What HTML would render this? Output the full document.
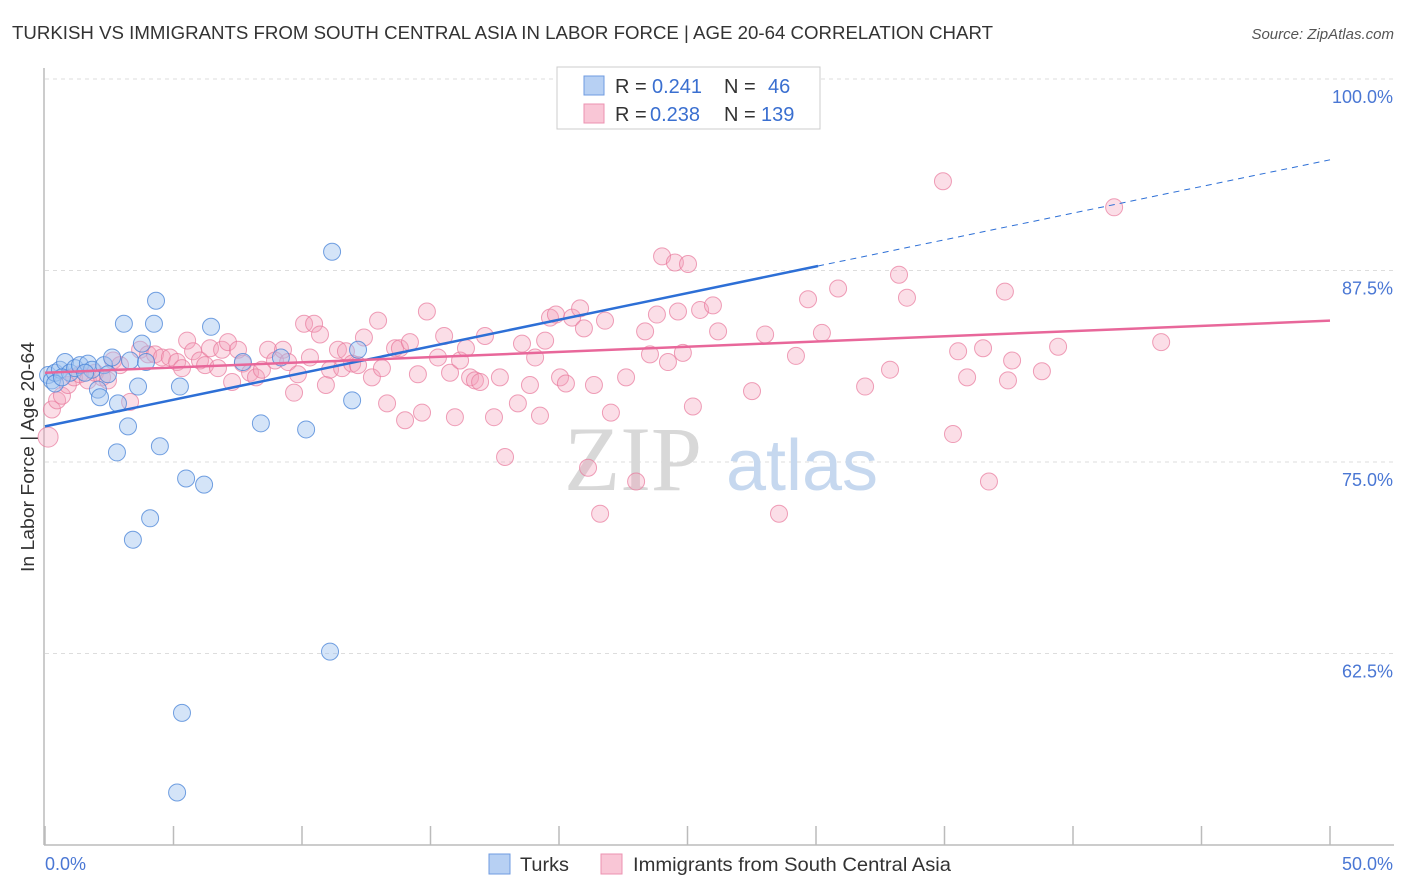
<!DOCTYPE html>
<html><head><meta charset="utf-8">
<style>
body{margin:0;background:#fff;width:1406px;height:892px;overflow:hidden;font-family:"Liberation Sans",sans-serif}
svg{position:absolute;left:0;top:0}
</style></head>
<body>
<svg id="chart" width="1406" height="892"></svg>
<script>
const xTicks=[0,5,10,15,20,25,30,35,40,45,50];
const yTicks=[100,87.5,75,62.5];
const yTickLabels=["100.0%","87.5%","75.0%","62.5%"];
const turksX=[0.12,0.27,0.39,0.58,0.78,0.97,1.17,1.36,1.67,1.83,2.06,2.14,2.30,2.45,2.61,2.84,3.07,3.23,2.80,3.31,3.62,3.77,3.93,4.24,4.32,4.09,4.47,3.42,5.25,5.49,6.19,6.46,7.70,8.40,9.18,10.16,11.17,11.95,12.18,11.09,5.33,5.14,29.42,0.39,0.66,1.56];
const turksY=[81.85,81.5,82.0,82.2,82.7,82.0,82.3,82.5,82.6,82.2,80.9,80.4,82.5,81.9,83.0,80.0,85.2,78.5,76.8,82.8,81.1,83.9,82.7,85.2,86.7,72.5,77.2,71.1,81.1,75.1,74.7,85.0,82.7,78.7,83.0,78.3,89.9,80.2,83.5,63.8,59.8,54.6,101.1,81.3,81.7,82.0];
const immX=[0.12,0.27,0.47,0.66,0.89,1.13,1.36,1.67,1.95,2.22,2.45,2.65,2.92,3.31,3.70,4.01,4.28,4.55,4.86,5.14,5.33,5.53,5.76,6.03,6.23,6.42,6.73,6.89,7.12,7.28,7.51,7.70,7.98,8.21,8.44,8.68,8.95,9.26,9.46,9.69,9.84,10.08,10.31,10.47,10.70,10.93,11.09,11.40,11.56,11.71,11.95,12.18,12.41,12.72,12.96,13.11,13.31,13.62,13.81,14.01,14.20,14.51,14.67,14.86,15.29,15.53,15.76,15.95,16.15,16.38,16.54,16.73,16.93,17.12,17.47,17.70,17.90,18.40,18.56,18.87,19.07,19.26,19.46,19.65,19.88,20.04,20.27,20.51,20.82,20.97,21.13,21.36,21.60,21.79,22.02,22.61,23.00,23.35,23.54,23.81,24.01,24.24,24.51,24.63,24.82,25.02,25.21,25.49,25.99,26.19,27.51,28.02,28.56,29.22,29.69,30.23,30.86,31.91,32.88,33.23,33.54,34.94,35.33,35.53,35.88,36.50,36.73,37.35,37.47,37.63,38.79,39.42,41.60,43.43];
const immY=[77.8,79.6,80.2,80.5,81.2,81.7,81.9,81.5,82.0,81.7,81.5,82.8,82.5,80.1,83.5,83.2,83.2,83.0,83.0,82.7,82.3,84.1,83.4,82.8,82.5,83.6,82.3,83.5,84.0,81.4,83.5,82.6,82.0,81.7,82.2,83.5,82.8,83.5,82.7,80.7,81.9,85.2,83.0,85.2,84.5,81.2,82.2,83.5,82.3,83.4,82.6,82.5,84.3,81.7,85.4,82.3,80.0,83.6,83.6,78.9,84.0,81.9,79.4,86.0,83.0,84.4,82.0,79.1,82.8,83.6,81.7,81.5,81.4,84.4,79.1,81.7,76.5,80.0,83.9,81.2,83.0,79.2,84.1,85.6,85.8,81.7,81.3,85.6,86.2,84.9,75.8,81.2,72.8,85.4,79.4,81.7,74.9,84.7,83.2,85.8,89.6,82.7,89.2,86.0,83.3,89.1,79.8,86.1,86.4,84.7,80.8,84.5,72.8,83.1,86.8,84.6,87.5,81.1,82.2,88.4,86.9,94.5,78.0,83.4,81.7,83.6,74.9,87.3,81.5,82.8,82.1,83.7,92.8,84.0];
const turksTrend=[78.5,95.9]; // y at x=0 and x=50
const turksSolidEnd=30.08;
const immTrend=[82.0,85.4];

const NS="http://www.w3.org/2000/svg";
const svg=document.getElementById('chart');
const X=v=>45+v/50*1285;
const Y=v=>97+(100-v)*15.32;
function el(tag,attrs,parent){const e=document.createElementNS(NS,tag);for(const k in attrs)e.setAttribute(k,attrs[k]);(parent||svg).appendChild(e);return e;}

let t=el('text',{x:12,y:39,'font-size':18.5,fill:'#333',textLength:981,lengthAdjust:'spacingAndGlyphs'});t.textContent="TURKISH VS IMMIGRANTS FROM SOUTH CENTRAL ASIA IN LABOR FORCE | AGE 20-64 CORRELATION CHART";


t=el('text',{x:1394,y:39,'font-size':15,fill:'#555','font-style':'italic','text-anchor':'end'});t.textContent="Source: ZipAtlas.com";



yTicks.forEach((v,i)=>{
  const g=el('line',{x1:45,x2:1394,y1:Y(v)-18,y2:Y(v)-18,stroke:'#ddd','stroke-dasharray':'4,4'});
  
  
  const l=el('text',{x:1393,y:Y(v)+6,'font-size':18,fill:'#4a77d4','text-anchor':'end'});l.textContent=yTickLabels[i];
  
  
});
let a=el('line',{x1:44,x2:44,y1:68,y2:845,stroke:'#bbb','stroke-width':1.5});


a=el('line',{x1:44,x2:1394,y1:845,y2:845,stroke:'#bbb','stroke-width':1.5});


xTicks.forEach(v=>{
  const k=el('line',{x1:X(v),x2:X(v),y1:826,y2:845,stroke:'#bbb','stroke-width':1.5});
  
  
});
t=el('text',{x:45,y:870,'font-size':18,fill:'#4a77d4'});t.textContent="0.0%";


t=el('text',{x:1393,y:870,'font-size':18,fill:'#4a77d4','text-anchor':'end'});t.textContent="50.0%";


t=el('text',{x:34,y:457,'font-size':18.5,fill:'#333','text-anchor':'middle',transform:'rotate(-90 34 457)',textLength:230,lengthAdjust:'spacingAndGlyphs'});t.textContent="In Labor Force | Age 20-64";



t=el('text',{x:633,y:490,'font-size':92,fill:'#d8d8d8','font-family':'Liberation Serif, serif','text-anchor':'middle'});t.textContent="ZIP";


t=el('text',{x:802,y:490,'font-size':72,fill:'#c6d8ef','text-anchor':'middle'});t.textContent="atlas";



immX.forEach((x,i)=>{
  const c=el('circle',{cx:X(x),cy:Y(immY[i]),r:i===0?10:8.5,fill:'rgba(244,160,185,0.35)',stroke:'rgba(232,120,155,0.7)','stroke-width':1});
  
  
});
turksX.forEach((x,i)=>{
  const c=el('circle',{cx:X(x),cy:Y(turksY[i]),r:8.5,fill:'rgba(160,195,240,0.45)',stroke:'rgba(70,130,215,0.75)','stroke-width':1});
  
  
});
const ty=x=>turksTrend[0]+(turksTrend[1]-turksTrend[0])*x/50;
let ln=el('line',{x1:X(0),y1:Y(ty(0)),x2:X(turksSolidEnd),y2:Y(ty(turksSolidEnd)),stroke:'#2d6fd6','stroke-width':2.5});


ln=el('line',{x1:X(turksSolidEnd),y1:Y(ty(turksSolidEnd)),x2:X(50),y2:Y(ty(50)),stroke:'#2d6fd6','stroke-width':1,'stroke-dasharray':'6,5'});


ln=el('line',{x1:X(0),y1:Y(immTrend[0]),x2:X(50),y2:Y(immTrend[1]),stroke:'#e8679a','stroke-width':2.5});



const lg=el('g',{});


el('rect',{x:557,y:67,width:263,height:62,fill:'#fff',stroke:'#ccc'},lg);
el('rect',{x:584,y:76,width:20,height:19,fill:'#b7d0f3',stroke:'#6f9be0'},lg);
el('rect',{x:584,y:104,width:20,height:19,fill:'#f9c6d6',stroke:'#ec92b0'},lg);
function lt(x,y,s,c){const e=el('text',{x:x,y:y,'font-size':20,fill:c},lg);e.textContent=s;return e;}
lt(615,93,"R = ","#333");lt(652,93,"0.241","#3a6fd0");lt(724,93,"N = ","#333");lt(768,93,"46","#3a6fd0");
lt(615,121,"R = ","#333");lt(650,121,"0.238","#3a6fd0");lt(724,121,"N = ","#333");lt(761,121,"139","#3a6fd0");

const bl=el('g',{});


el('rect',{x:489,y:854,width:21,height:20,fill:'#b7d0f3',stroke:'#6f9be0'},bl);
let b=el('text',{x:520,y:871,'font-size':19.5,fill:'#333',textLength:49,lengthAdjust:'spacingAndGlyphs'},bl);b.textContent="Turks";
el('rect',{x:601,y:854,width:21,height:20,fill:'#f9c6d6',stroke:'#ec92b0'},bl);
b=el('text',{x:633,y:871,'font-size':19.5,fill:'#333',textLength:318,lengthAdjust:'spacingAndGlyphs'},bl);b.textContent="Immigrants from South Central Asia";
</script>
</body></html>
